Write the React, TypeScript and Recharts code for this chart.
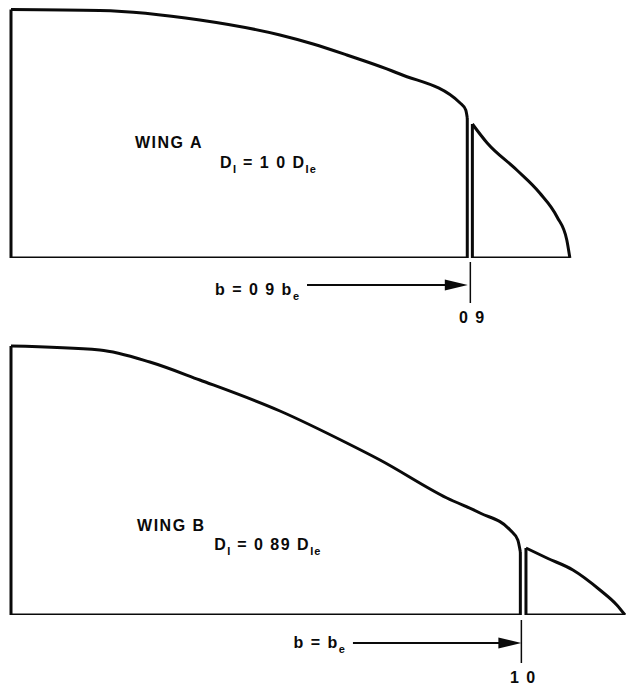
import React from "react";
import { ComposedChart, Line, XAxis, YAxis, ReferenceLine, ReferenceDot } from "recharts";

// span in b/be units, load in arbitrary units
const wingAInSpan = [0, 0.174, 0.37, 0.527, 0.592, 0.658, 0.762, 0.88, 0.891, 0.894];
const wingAInLoad = [0.994, 0.99, 0.952, 0.892, 0.856, 0.812, 0.736, 0.62, 0.592, 0.56];
const wingAOutSpan = [0.904, 0.933, 0.991, 1.036, 1.07, 1.089, 1.095];
const wingAOutLoad = [0.536, 0.46, 0.352, 0.26, 0.164, 0.072, 0];

const wingBInSpan = [0, 0.174, 0.272, 0.37, 0.527, 0.658, 0.723, 0.854, 0.919, 0.978, 0.993, 0.998];
const wingBInLoad = [1.076, 1.06, 1.012, 0.94, 0.816, 0.688, 0.62, 0.468, 0.408, 0.34, 0.3, 0.252];
const wingBOutSpan = [1.009, 1.05, 1.101, 1.154, 1.187, 1.203];
const wingBOutLoad = [0.268, 0.228, 0.18, 0.1, 0.04, 0];

const wingATicks = [0.9];
const wingBTicks = [1.0];
const wingATickLabel = "0 9";
const wingBTickLabel = "1 0";
const wingARatio = "1 0";
const wingBRatio = "0 89";
const wingASpanText = "b = 0 9 b";
const wingBSpanText = "b = b";

const FONT = "'Liberation Sans', Arial, Helvetica, sans-serif";
const INK = "#0a0a0a";

const toPts = (xs: number[], ys: number[]) => xs.map((x, i) => ({ x, y: ys[i] }));

// left edge + baseline + drop at the gap
const inEdge = (xs: number[], ys: number[]) => {
  const n = xs.length - 1;
  return [
    { x: xs[n], y: ys[n] },
    { x: xs[n], y: 0 },
    { x: xs[0], y: 0 },
    { x: xs[0], y: ys[0] },
  ];
};
const outEdge = (xs: number[], ys: number[]) => {
  const n = xs.length - 1;
  return [
    { x: xs[0], y: ys[0] },
    { x: xs[0], y: 0 },
    { x: xs[n], y: ys[n] },
  ];
};

const textStyle = {
  fontFamily: FONT,
  fontWeight: "bold" as const,
  fontSize: 16,
  letterSpacing: 1.5,
  fill: INK,
};

function TickShape(props: any) {
  const { x1, y1, x2, y2, label } = props;
  return (
    <g>
      <line x1={x1} x2={x2} y1={y1} y2={y2} stroke={INK} strokeWidth={1.5} />
      <text x={x1 + 2} y={y2 + 20} textAnchor="middle" {...textStyle}>
        {label}
      </text>
    </g>
  );
}

function ArrowShape(props: any) {
  const { x1, y1, x2, y2, text, textDy } = props;
  return (
    <g>
      <line x1={x1} y1={y1} x2={x2 - 18} y2={y2} stroke={INK} strokeWidth={2} />
      <polygon points={`${x2},${y2} ${x2 - 23},${y2 - 5.5} ${x2 - 23},${y2 + 5.5}`} fill={INK} />
      <text x={x1 - 7} y={y1 + textDy} textAnchor="end" {...textStyle}>
        {text}
        <tspan dy={5} fontSize={11} letterSpacing={1}>
          e
        </tspan>
      </text>
    </g>
  );
}

function WingPanel(props: any) {
  const {
    inSpan, inLoad, outSpan, outLoad, ticks, tickLabel, ratio, title, spanText,
    height, margin, yMax, titlePos, ratioPos, arrow, tickRange,
  } = props;
  const stroke = { stroke: INK, strokeWidth: 3, dot: false, activeDot: false, isAnimationActive: false, strokeLinejoin: "round" as const };
  return (
    <ComposedChart width={626} height={height} margin={margin}>
      <XAxis type="number" dataKey="x" domain={[0, 1.205]} ticks={ticks} hide />
      <YAxis type="number" domain={[0, yMax]} hide allowDataOverflow />
      <Line data={inEdge(inSpan, inLoad)} dataKey="y" type="linear" {...stroke} />
      <Line data={toPts(inSpan, inLoad)} dataKey="y" type="monotone" {...stroke} />
      <Line data={outEdge(outSpan, outLoad)} dataKey="y" type="linear" {...stroke} />
      <Line data={toPts(outSpan, outLoad)} dataKey="y" type="monotone" {...stroke} />
      {ticks.map((t: number) => (
        <ReferenceLine
          key={t}
          segment={[{ x: t, y: tickRange[0] }, { x: t, y: tickRange[1] }]}
          ifOverflow="visible"
          shape={(p: any) => <TickShape {...p} label={tickLabel} />}
        />
      ))}
      <ReferenceDot
        x={titlePos[0]}
        y={titlePos[1]}
        r={0}
        ifOverflow="visible"
        shape={(p: any) => (
          <text x={p.cx} y={p.cy} {...textStyle}>
            {title}
          </text>
        )}
      />
      <ReferenceDot
        x={ratioPos[0]}
        y={ratioPos[1]}
        r={0}
        ifOverflow="visible"
        shape={(p: any) => (
          <text x={p.cx} y={p.cy} {...textStyle}>
            D
            <tspan dy={5} fontSize={11} letterSpacing={1}>I</tspan>
            <tspan dy={-5}>{` = ${ratio} D`}</tspan>
            <tspan dy={5} fontSize={11} letterSpacing={1}>Ie</tspan>
          </text>
        )}
      />
      <ReferenceLine
        segment={[{ x: arrow.from, y: arrow.y }, { x: arrow.to, y: arrow.y }]}
        ifOverflow="visible"
        shape={(p: any) => <ArrowShape {...p} text={spanText} textDy={arrow.dy} />}
      />
    </ComposedChart>
  );
}

export default function App() {
  return (
    <div style={{ position: "absolute", left: 0, top: 0, width: 626, height: 692, background: "#fff" }}>
      <WingPanel
        inSpan={wingAInSpan}
        inLoad={wingAInLoad}
        outSpan={wingAOutSpan}
        outLoad={wingAOutLoad}
        ticks={wingATicks}
        tickLabel={wingATickLabel}
        tickRange={[-0.016, -0.18]}
        ratio={wingARatio}
        title="WING A"
        spanText={wingASpanText}
        height={330}
        margin={{ top: 8, right: 0, bottom: 72, left: 11 }}
        yMax={1}
        titlePos={[0.243, 0.44]}
        ratioPos={[0.4095, 0.36]}
        arrow={{ from: 0.58, to: 0.895, y: -0.108, dy: 10 }}
      />
      <WingPanel
        inSpan={wingBInSpan}
        inLoad={wingBInLoad}
        outSpan={wingBOutSpan}
        outLoad={wingBOutLoad}
        ticks={wingBTicks}
        tickLabel={wingBTickLabel}
        tickRange={[0.0 - 0.02, -0.192]}
        ratio={wingBRatio}
        title="WING B"
        spanText={wingBSpanText}
        height={362}
        margin={{ top: 10, right: 0, bottom: 77, left: 11 }}
        yMax={1.1}
        titlePos={[0.247, 0.336]}
        ratioPos={[0.398, 0.26]}
        arrow={{ from: 0.67, to: 1.0, y: -0.112, dy: 5 }}
      />
    </div>
  );
}
